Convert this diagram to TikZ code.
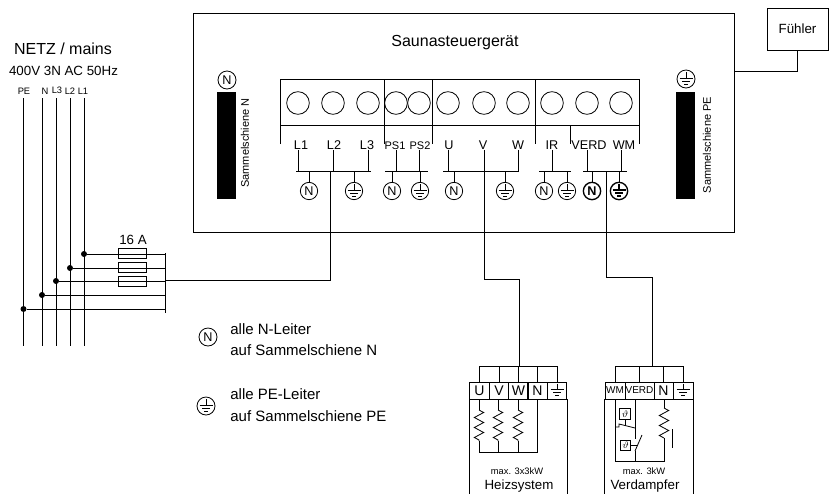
\documentclass[tikz,border=0pt]{standalone}
\usepackage{fontspec}
\setmainfont{Liberation Sans}
\usetikzlibrary{decorations.pathmorphing}
\newcommand{\earthlines}{%
\draw (path picture bounding box.center) ++(0,-7) -- ++(0,6);
\draw (path picture bounding box.center) ++(-6.5,-1) -- ++(13,0);
\draw (path picture bounding box.center) ++(-4,2) -- ++(8,0);
\draw (path picture bounding box.center) ++(-2,5) -- ++(4,0);}
\tikzset{
txtxs/.style={font=\fontsize{7}{8}\selectfont},
txts/.style={font=\fontsize{8.25}{10}\selectfont},
txtm/.style={font=\fontsize{9.5}{11}\selectfont},
txtl/.style={font=\fontsize{10}{12}\selectfont},
txtxl/.style={font=\fontsize{11.25}{14}\selectfont},
txthead/.style={font=\fontsize{12}{14}\selectfont},
screw/.style={circle,draw,minimum size=17pt,inner sep=0pt},
portlabel/.style={txtm,anchor=base,inner sep=0pt,text depth=0pt},
nsym/.style={circle,draw,minimum size=13pt,inner sep=0pt,txtm},
pesym/.style={circle,draw,minimum size=13pt,inner sep=0pt,path picture={\earthlines}},
dot/.style={circle,fill=black,minimum size=4.5pt,inner sep=0pt},
fuse/.style={draw,minimum width=21pt,minimum height=8pt,inner sep=0pt},
cell/.style={draw,minimum width=14.5pt,minimum height=12.75pt,inner sep=0pt,font=\fontsize{10.5}{12}\selectfont},
resistor/.style={decorate,decoration={zigzag,segment length=7.5pt,amplitude=3.5pt}},
thermo/.style={draw,minimum width=8pt,minimum height=8pt,inner sep=0pt,font=\fontsize{7.5}{8}\selectfont}
}
\begin{document}
\begin{tikzpicture}[x=0.75pt,y=-0.75pt,line width=0.6pt]
\useasboundingbox (0,0) rectangle (829,494);
\node[draw,minimum width=405.75pt,minimum height=164.25pt] (ctrl) at (463.5,122.5) {};
\node[txthead] (title) at (455,43) {Saunasteuergerät};
\node[draw,minimum width=45.75pt,minimum height=31.5pt,txtl] (fuehler) at (797.5,29) {Fühler};
\coordinate (sensor) at (734,71);
\draw (fuehler.south) |- (sensor);
\node[txthead] (netz) at (63,49) {NETZ / mains};
\node[txtl] (volt) at (63.5,71) {400V 3N AC 50Hz};
\node[txtxs] (lblPE) at (24,91) {PE};
\node[txtxs] (lblN) at (45,91) {N};
\node[txtxs] (lblLc) at (57,90) {L3};
\node[txtxs] (lblLb) at (70,91) {L2};
\node[txtxs] (lblLa) at (83,91) {L1};
\coordinate (endPE) at (23.5,346);
\coordinate (endN) at (42,346);
\coordinate (endLc) at (56,346);
\coordinate (endLb) at (70,346);
\coordinate (endLa) at (84,346);
\coordinate (topPE) at (23.5,98);
\coordinate (topN) at (42,98);
\coordinate (topLc) at (56,98);
\coordinate (topLb) at (70,98);
\coordinate (topLa) at (84,98);
\draw (topPE) -- (endPE);
\draw (topN) -- (endN);
\draw (topLc) -- (endLc);
\draw (topLb) -- (endLb);
\draw (topLa) -- (endLa);
\node[dot] (dotLa) at (84,254) {};
\node[dot] (dotLb) at (70,268) {};
\node[dot] (dotLc) at (56,281) {};
\node[dot] (dotN) at (42,295) {};
\node[dot] (dotPE) at (23.5,309) {};
\coordinate (railtop) at (165,253);
\coordinate (railbot) at (165,313);
\draw (railtop) -- (railbot);
\draw (dotLa) -- (dotLa -| railtop);
\draw (dotLb) -- (dotLb -| railtop);
\draw (dotLc) -- (dotLc -| railtop);
\draw (dotN) -- (dotN -| railtop);
\draw (dotPE) -- (dotPE -| railtop);
\node[fuse] (fusea) at (132,253.5) {};
\node[fuse] (fuseb) at (132,267.5) {};
\node[fuse] (fusec) at (132,281.5) {};
\node[txtl] (amps) at (133,240) {16 A};
\coordinate (feed) at (165,280);
\coordinate (feedup) at (330,171);
\draw (feed) -| (feedup);
\draw (280,144) -- (280,79) -- (639,79) -- (639,144);
\draw (280,125) -- (639,125);
\draw (384,79) -- (384,144);
\draw (432,79) -- (432,144);
\draw (535,79) -- (535,144);
\draw (570,125) -- (570,144);
\node[screw] (sL1) at (298,103) {};
\node[screw] (sL2) at (333,103) {};
\node[screw] (sL3) at (368,103) {};
\node[screw] (sPa) at (396,103) {};
\node[screw] (sPb) at (419,103) {};
\node[screw] (sU) at (448,103) {};
\node[screw] (sV) at (484,103) {};
\node[screw] (sW) at (518,103) {};
\node[screw] (sIR) at (552,103) {};
\node[screw] (sVD) at (587,103) {};
\node[screw] (sWM) at (621,103) {};
\node[portlabel] (pL1) at (301,149.5) {L1};
\node[portlabel] (pL2) at (334,149.5) {L2};
\node[portlabel] (pL3) at (367,149.5) {L3};
\node[portlabel,txts] (pPa) at (395,149.5) {PS1};
\node[portlabel,txts] (pPb) at (420,149.5) {PS2};
\node[portlabel] (pU) at (449,149.5) {U};
\node[portlabel] (pV) at (483,149.5) {V};
\node[portlabel] (pW) at (518,149.5) {W};
\node[portlabel] (pIR) at (552,149.5) {IR};
\node[portlabel] (pVD) at (589,149.5) {VERD};
\node[portlabel] (pWM) at (624,149.5) {WM};
\coordinate (busLa) at (296,171);
\coordinate (busLb) at (371,171);
\coordinate (busPa) at (385,171);
\coordinate (busPb) at (428,171);
\coordinate (busUa) at (443,171);
\coordinate (busUb) at (519,171);
\coordinate (busIa) at (539,171);
\coordinate (busIb) at (571,171);
\coordinate (busVa) at (583,171);
\coordinate (busVb) at (627,171);
\draw (busLa) -- (busLb);
\draw (busPa) -- (busPb);
\draw (busUa) -- (busUb);
\draw (busIa) -- (busIb);
\draw (busVa) -- (busVb);
\draw (sL1 |- pL1.south) -- (sL1 |- busLa);
\draw (sL2 |- pL2.south) -- (sL2 |- busLa);
\draw (sL3 |- pL3.south) -- (sL3 |- busLa);
\draw (sPa |- pPa.south) -- (sPa |- busPa);
\draw (sPb |- pPb.south) -- (sPb |- busPa);
\draw (sU |- pU.south) -- (sU |- busUa);
\draw (sW |- pW.south) -- (sW |- busUa);
\draw (sIR |- pIR.south) -- (sIR |- busIa);
\draw (sVD |- pVD.south) -- (sVD |- busVa);
\draw (sWM |- pWM.south) -- (sWM |- busVa);
\node[nsym] (nL) at (309,191) {N};
\node[pesym] (eL) at (354,191) {};
\node[nsym] (nP) at (392,191) {N};
\node[pesym] (eP) at (420,191) {};
\node[nsym] (nU) at (454,191) {N};
\node[pesym] (eU) at (505,191) {};
\node[nsym] (nI) at (544,191) {N};
\node[pesym] (eI) at (567,191) {};
\node[nsym,line width=1pt,font=\fontsize{9.5}{11}\bfseries\selectfont] (nV) at (592,191) {N};
\node[pesym,line width=1pt] (eV) at (619,191) {};
\draw (nL) -- (nL |- busLa);
\draw (eL) -- (eL |- busLa);
\draw (nP) -- (nP |- busPa);
\draw (eP) -- (eP |- busPa);
\draw (nU) -- (nU |- busUa);
\draw (eU) -- (eU |- busUa);
\draw (nI) -- (nI |- busIa);
\draw (eI) -- (eI |- busIa);
\draw (nV) -- (nV |- busVa);
\draw (eV) -- (eV |- busVa);
\node[fill=black,minimum width=14.25pt,minimum height=80.25pt,inner sep=0pt] (railN) at (226.5,145.5) {};
\node[fill=black,minimum width=14.25pt,minimum height=80.25pt,inner sep=0pt] (railE) at (685.5,145.5) {};
\node[nsym,minimum size=13.5pt] (nRail) at (227,80) {N};
\node[pesym,minimum size=13.5pt] (eRail) at (686,79) {};
\node[txts,rotate=90] (txtN) at (245,143) {Sammelschiene N};
\node[txts,rotate=90] (txtE) at (707,145) {Sammelschiene PE};
\node[nsym,minimum size=13.5pt] (nKey) at (208,337) {N};
\node[pesym,minimum size=13.5pt] (eKey) at (206,406) {};
\node[txtxl,anchor=west,inner sep=0pt] (keyNa) at (230,329) {alle N-Leiter};
\node[txtxl,anchor=west,inner sep=0pt] (keyNb) at (230,350) {auf Sammelschiene N};
\node[txtxl,anchor=west,inner sep=0pt] (keyEa) at (230,394) {alle PE-Leiter};
\node[txtxl,anchor=west,inner sep=0pt] (keyEb) at (230,416) {auf Sammelschiene PE};
\node[cell] (hU) at (479.5,390.5) {U};
\node[cell] (hV) at (499,390.5) {V};
\node[cell] (hW) at (518.5,390.5) {W};
\node[cell] (hN) at (537.5,390.5) {N};
\node[cell,path picture={\earthlines}] (hE) at (557,390.5) {};
\coordinate (hbus) at (519,366);
\coordinate (hturn) at (519,279);
\coordinate (lowend) at (0,494);
\draw (pV.south -| sV) |- (hturn) -- (hbus);
\draw (hU.north |- hbus) -- (hE.north |- hbus);
\draw (hU.north) -- (hU.north |- hbus);
\draw (hV.north) -- (hV.north |- hbus);
\draw (hW.north) -- (hW.north |- hbus);
\draw (hN.north) -- (hN.north |- hbus);
\draw (hE.north) -- (hE.north |- hbus);
\draw (hU.south west) -- (hU.south west |- lowend);
\draw (hE.south east) -- (hE.south east |- lowend);
\coordinate (ra) at (479,410);
\coordinate (rb) at (479,441);
\coordinate (rc) at (498,410);
\coordinate (rd) at (498,441);
\coordinate (re) at (518,410);
\coordinate (rf) at (518,441);
\coordinate (rlow) at (537,452);
\draw (hU.south -| ra) -- (ra);
\draw (hV.south -| rc) -- (rc);
\draw (hW.south -| re) -- (re);
\draw[resistor] (ra) -- (rb);
\draw[resistor] (rc) -- (rd);
\draw[resistor] (re) -- (rf);
\draw (rb) -- (rb |- rlow);
\draw (rd) -- (rd |- rlow);
\draw (rf) -- (rf |- rlow);
\draw (rb |- rlow) -- (rlow) -- (hN.south -| rlow);
\node[inner sep=0pt,font=\fontsize{7}{8}\selectfont] (hmax) at (517,471) {max. 3x3kW};
\node[inner sep=0pt,txtl] (hname) at (519,486) {Heizsystem};
\node[cell,minimum width=15pt,font=\fontsize{7.5}{8}\selectfont] (vWM) at (615,390.5) {WM};
\node[cell,minimum width=21.75pt,font=\fontsize{7.5}{8}\selectfont] (vVD) at (639.5,390.5) {VERD};
\node[cell,minimum width=14.25pt] (vN) at (663.5,390.5) {N};
\node[cell,minimum width=15pt,path picture={\earthlines}] (vE) at (683,390.5) {};
\coordinate (vbus) at (652,366);
\coordinate (vturn) at (652,277);
\coordinate (vstart) at (606,171);
\draw (vstart) |- (vturn) -- (vbus);
\draw (vWM.north |- vbus) -- (vE.north |- vbus);
\draw (vWM.north) -- (vWM.north |- vbus);
\draw (vVD.north) -- (vVD.north |- vbus);
\draw (vN.north) -- (vN.north |- vbus);
\draw (vE.north) -- (vE.north |- vbus);
\draw (vWM.south west) -- (vWM.south west |- lowend);
\draw (vE.south east) -- (vE.south east |- lowend);
\coordinate (vlowa) at (615,461);
\coordinate (vlowb) at (635,461);
\coordinate (vlowc) at (664,461);
\coordinate (vra) at (664,408);
\coordinate (vrb) at (664,438);
\coordinate (swa) at (635,428);
\coordinate (swb) at (635,451);
\coordinate (swc) at (642,435);
\coordinate (swd) at (635,439);
\coordinate (swe) at (615,427);
\coordinate (swf) at (619,427);
\coordinate (swg) at (619,424);
\coordinate (barup) at (672,429);
\coordinate (bardn) at (672,448);
\draw (vWM.south -| vlowa) -- (vlowa) -- (vlowc) -- (vrb);
\draw (vVD.south -| vlowb) -- (swd);
\draw (swb) -- (vlowb);
\draw (swb) -- (swc);
\draw (swe) -- (swf) -- (swg) -- (swa);
\draw (vN.south -| vra) -- (vra);
\draw[resistor] (vra) -- (vrb);
\draw (barup) -- (bardn);
\node[thermo] (tha) at (625,414) {$\vartheta$};
\node[thermo] (thb) at (625.5,445.5) {$\vartheta$};
\draw (tha.south) -- (tha.south |- 625,426);
\draw (thb.east) -- (thb.east -| 638,0);
\node[inner sep=0pt,font=\fontsize{7}{8}\selectfont] (vmax) at (644,471) {max. 3kW};
\node[inner sep=0pt,txtl] (vname) at (645,486) {Verdampfer};
\end{tikzpicture}
\end{document}
